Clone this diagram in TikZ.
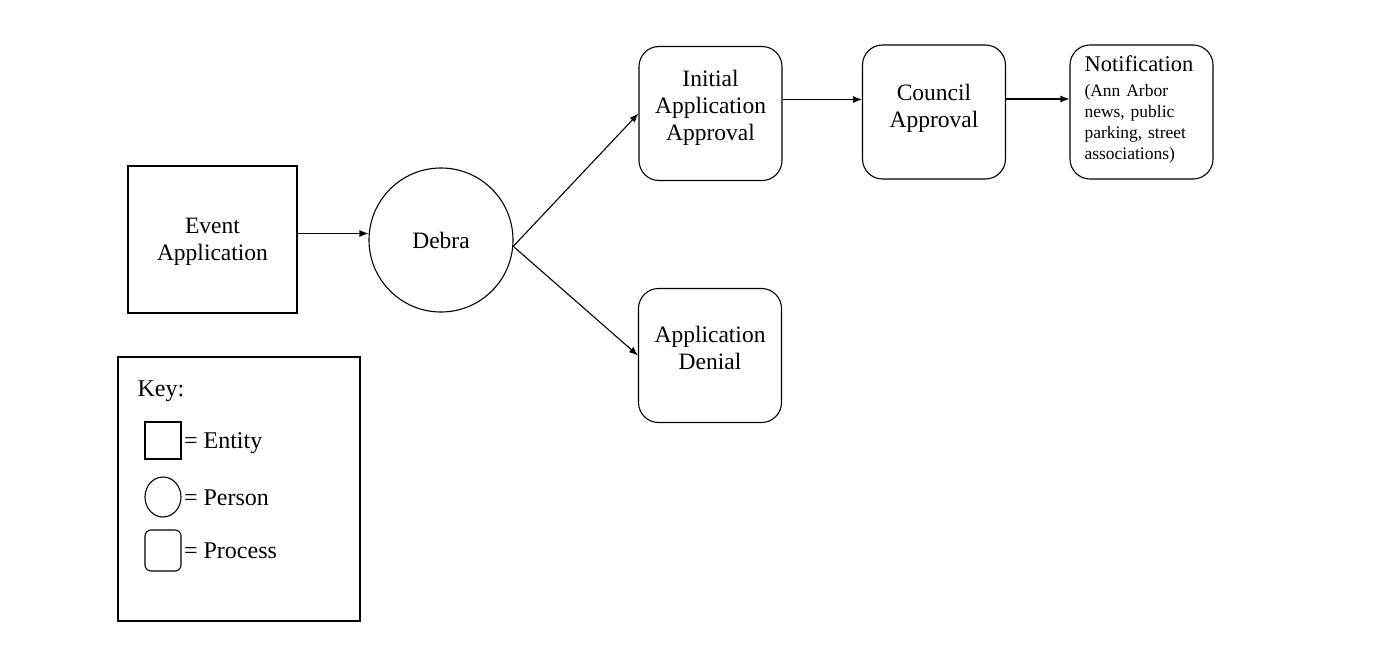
\documentclass[tikz,border=0pt]{standalone}
\usepackage{fontspec}
\setmainfont{Liberation Serif}
\usetikzlibrary{positioning}
\usetikzlibrary{arrows.meta}
\usetikzlibrary{shapes.geometric}

\begin{document}
\begin{tikzpicture}[x=1pt,y=-1pt,line width=1.1pt,
  every node/.style={inner sep=0pt,align=center,font=\fontsize{23.5}{27}\selectfont},
  entity/.style={draw,minimum width=169pt,minimum height=147pt},
  person/.style={draw,circle,minimum size=144pt},
  process/.style={draw,rounded corners=20pt,minimum width=143pt,minimum height=134pt},
  keytext/.style={anchor=base west,font=\fontsize{24}{28}\selectfont},
  flow/.style={-{Latex[length=9pt,width=7pt]}}]
  \useasboundingbox (0,0) rectangle (1391,650);
  % flow
  \node[entity,text depth=0pt] (event) at (212.5,239.5) {Event\\Application};
  \node[person] (debra) at (441,240) {Debra};
  \node[process,text depth=17pt] (init) at (710.5,113.5) {Initial\\Application\\Approval};
  \node[process,text depth=15pt] (deny) at (710,355.5) {Application\\Denial};
  \node[process,text depth=12pt] (council) at (934,112) {Council\\Approval};
  \node[process,text width=114pt,align=left,text depth=96pt,
    font=\fontsize{17.5}{20.8}\selectfont] (notify) at (1141.5,112)
    {{\fontsize{22.5}{27}\selectfont Notification}\\[4pt](Ann Arbor\\news, public\\parking, street\\associations)};
  \draw[flow] ([yshift=6pt]event.east) -- ([yshift=6pt]event.east -| debra.west);
  \draw[flow] (debra.-5) -- (init.west);
  \draw[flow] (debra.-5) -- (deny.west);
  \draw[flow] ([yshift=14pt]init.east) -- ([yshift=14pt]init.east -| council.west);
  \draw[flow] ([yshift=13pt]council.east) -- ([yshift=13pt]council.east -| notify.west);
  % key
  \node[draw,minimum width=242pt,minimum height=264pt] (key) at (239,489) {};
  \node[keytext] (keytitle) at (137,396) {Key:};
  \node[draw,minimum width=36pt,minimum height=37pt] (keyentity) at (163,440.5) {};
  \node[draw,ellipse,minimum width=36pt,minimum height=40pt] (keyperson) at (163,497) {};
  \node[draw,rounded corners=6pt,minimum width=36pt,minimum height=41pt] (keyprocess) at (163,550.5) {};
  \node[keytext] (keyentitytext) at ([xshift=2pt,yshift=-8pt]keyentity.east) {= Entity};
  \node[keytext] (keypersontext) at ([xshift=2pt,yshift=-8pt]keyperson.east) {= Person};
  \node[keytext] (keyprocesstext) at ([xshift=2pt,yshift=-8pt]keyprocess.east) {= Process};
\end{tikzpicture}
\end{document}
